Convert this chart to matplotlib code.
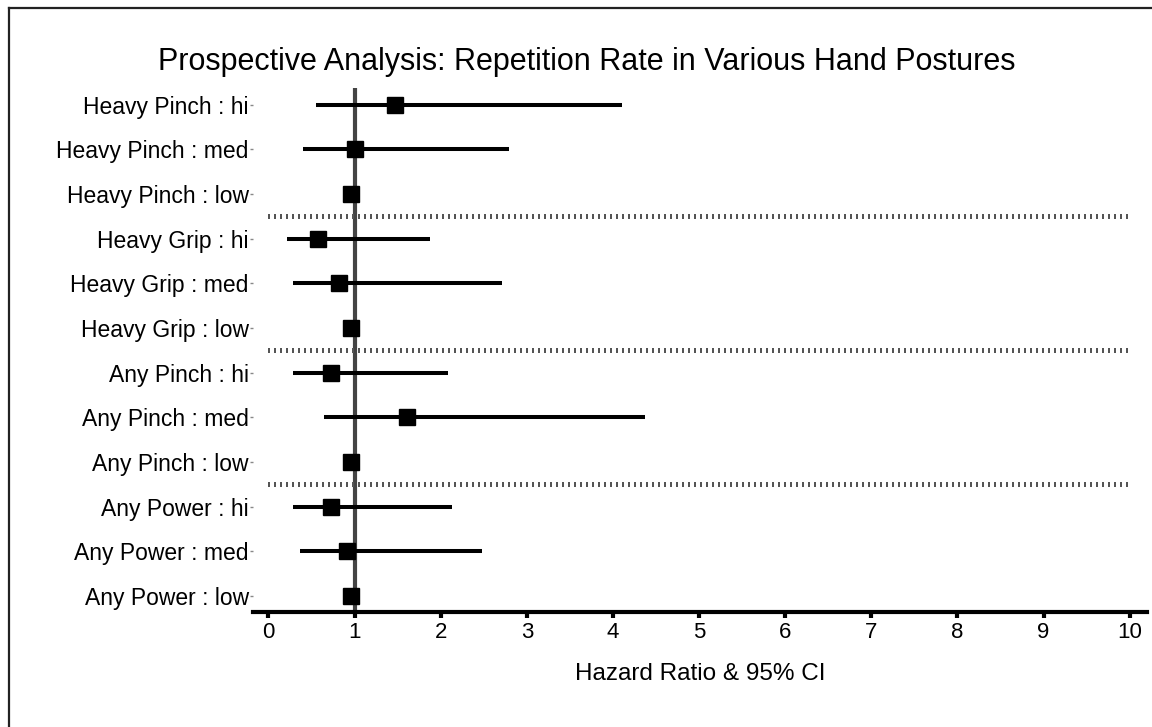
import numpy as np
import matplotlib
matplotlib.use("Agg")
import matplotlib.pyplot as plt
from matplotlib.lines import Line2D

plt.rcParams['font.family'] = ['Liberation Sans', 'DejaVu Sans']

# --- data ---
labels = [
    "Heavy Pinch : hi", "Heavy Pinch : med", "Heavy Pinch : low",
    "Heavy Grip : hi", "Heavy Grip : med", "Heavy Grip : low",
    "Any Pinch : hi", "Any Pinch : med", "Any Pinch : low",
    "Any Power : hi", "Any Power : med", "Any Power : low",
]
hazard_ratio = [1.47, 1.01, 0.96, 0.58, 0.82, 0.96, 0.73, 1.61, 0.96, 0.73, 0.91, 0.96]
ci_low = [0.55, 0.40, np.nan, 0.22, 0.29, np.nan, 0.28, 0.64, np.nan, 0.29, 0.37, np.nan]
ci_high = [4.10, 2.79, np.nan, 1.87, 2.71, np.nan, 2.09, 4.37, np.nan, 2.13, 2.48, np.nan]
separators = [2.5, 5.5, 8.5]
xticks = list(range(0, 11))

fig = plt.figure(figsize=(11.52, 7.27), dpi=100)
ax = fig.add_axes([0.2196, 0.1582, 0.776, 0.721])

ypos = np.arange(len(labels))

# reference line at HR = 1
ax.axvline(1, color="#444444", lw=3, zorder=1)

# separators between posture groups (short vertical ticks)
for s in separators:
    ax.plot([0, 10], [s, s], color="#555555", lw=3.6, antialiased=False,
            dashes=(0.21, 0.83), solid_capstyle="butt", dash_capstyle="butt", zorder=1)

# confidence intervals and point estimates
for y, lo, hi in zip(ypos, ci_low, ci_high):
    if not np.isnan(lo):
        ax.plot([lo, hi], [y, y], color="black", lw=2.9, solid_capstyle="butt", zorder=2)
ax.plot(hazard_ratio, ypos, linestyle="none", marker="s", markersize=11,
        color="black", zorder=3)

ax.set_xlim(-0.18, 10.2)
ax.set_ylim(11.36, -0.38)
ax.set_yticks(ypos)
ax.set_yticklabels(labels, fontsize=16.5)
ax.set_xticks(xticks)
ax.set_xticklabels([str(t) for t in xticks], fontsize=16)

for side in ["top", "right", "left"]:
    ax.spines[side].set_visible(False)
ax.spines["bottom"].set_linewidth(3)
ax.tick_params(axis="x", length=4.5, width=3, pad=3)
ax.tick_params(axis="y", length=2, width=1, color="#888888", pad=1)

ax.set_xlabel("Hazard Ratio & 95% CI", fontsize=17.5, labelpad=14)

fig.text(0.509, 0.915, "Prospective Analysis: Repetition Rate in Various Hand Postures",
         ha="center", va="center", fontsize=22)

# outer frame (left and top edges only are visible in the crop)
fig.add_artist(Line2D([0.0075, 0.0075], [0.0, 0.989], color="#222222", lw=1.6,
                      transform=fig.transFigure))
fig.add_artist(Line2D([0.0075, 1.0], [0.989, 0.989], color="#222222", lw=1.6,
                      transform=fig.transFigure))

fig.savefig("out.png", dpi=100)
